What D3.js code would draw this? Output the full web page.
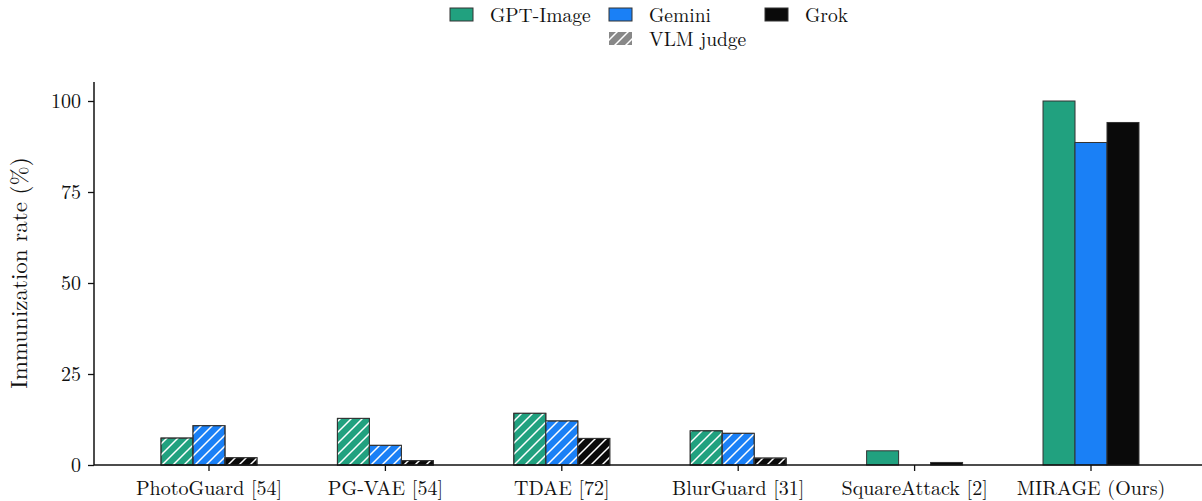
<!DOCTYPE html>
<html><head><meta charset="utf-8">
<script src="https://cdn.jsdelivr.net/npm/d3@7"></script>
<style>
body{margin:0;background:#fff;}
</style></head>
<body><div id="chart"></div>
<script>
const categories = ["PhotoGuard [54]","PG-VAE [54]","TDAE [72]","BlurGuard [31]","SquareAttack [2]","MIRAGE (Ours)"];
const seriesNames = ["GPT-Image","Gemini","Grok"];
const gptImage = [7.4, 12.8, 14.2, 9.4, 3.9, 100];
const gemini   = [10.8, 5.4, 12.1, 8.7, 0, 88.6];
const grok     = [2.0, 1.2, 7.3, 1.9, 0.7, 94.1];
const vlmJudge = [true, true, true, true, false, false];
const yTicks = [0, 25, 50, 75, 100];
const colors = ["#21a17f", "#1a80f6", "#0a0a0a"];
const FONT = "'Latin Modern Roman', 'Liberation Serif', serif";

const W = 1202, H = 501;
const svg = d3.select("#chart").append("svg").attr("width", W).attr("height", H)
  .style("font-family", FONT);
const defs = svg.append("defs");
const pat = defs.append("pattern").attr("id","hatch").attr("patternUnits","userSpaceOnUse")
  .attr("width",11).attr("height",11);
pat.append("path").attr("d","M-1,1 L1,-1 M0,11 L11,0 M10,12 L12,10")
  .attr("stroke","#fff").attr("stroke-width",1.5);

const x0 = 94, x1 = 1202, yTop = 82, yBot = 465;
const x = d3.scaleBand().domain(categories).range([120.8, 1179.2]).paddingInner(0.456).paddingOuter(0.228);
const y = d3.scaleLinear().domain([0, 100]).range([yBot, 101]);

const data = [gptImage, gemini, grok];
const xs = d3.scaleBand().domain(seriesNames).range([0, x.bandwidth()]);

const g = svg.append("g");
categories.forEach((c, i) => {
  seriesNames.forEach((s, j) => {
    const v = data[j][i];
    if (v <= 0) return;
    const bx = x(c) + xs(s);
    const bw = xs.bandwidth();
    g.append("rect").attr("x", bx).attr("y", y(v)).attr("width", bw).attr("height", y(0) - y(v))
      .attr("fill", colors[j]).attr("stroke", "#333").attr("stroke-width", 1);
    if (vlmJudge[i]) {
      g.append("rect").attr("x", bx).attr("y", y(v)).attr("width", bw).attr("height", y(0) - y(v))
        .attr("fill", "url(#hatch)").attr("stroke", "#333").attr("stroke-width", 1);
    }
  });
});

// axes
const yAxis = svg.append("g").attr("transform", `translate(${x0},0)`)
  .call(d3.axisLeft(y).tickValues(yTicks).tickSize(6).tickPadding(7));
yAxis.attr("font-family", null);
yAxis.select(".domain").remove();
yAxis.selectAll("text").style("font-family", FONT).style("font-size","20px").attr("fill","#111");
yAxis.selectAll("line").attr("stroke","#111").attr("stroke-width",1.3);
svg.append("line").attr("x1",x0).attr("x2",x0).attr("y1",yTop).attr("y2",yBot).attr("stroke","#111").attr("stroke-width",1.5);

const xAxis = svg.append("g").attr("transform", `translate(0,${yBot})`)
  .call(d3.axisBottom(x).tickSize(6).tickPadding(10));
xAxis.attr("font-family", null);
xAxis.select(".domain").remove();
xAxis.selectAll("text").style("font-family", FONT).style("font-size","20px").attr("fill","#111");
xAxis.selectAll("line").attr("stroke","#111").attr("stroke-width",1.3);
svg.append("line").attr("x1",x0).attr("x2",x1).attr("y1",yBot).attr("y2",yBot).attr("stroke","#111").attr("stroke-width",1.5);

svg.append("text").attr("transform", `translate(27,273) rotate(-90)`).attr("text-anchor","middle")
  .style("font-family", FONT).style("font-size","23px").attr("fill","#111").text("Immunization rate (%)");

// legend
const leg = svg.append("g");
const legItems = [
  {name: seriesNames[0], fill: colors[0], x: 450, y: 8},
  {name: seriesNames[1], fill: colors[1], x: 609, y: 8},
  {name: seriesNames[2], fill: colors[2], x: 765, y: 8},
  {name: "VLM judge", fill: "#888", x: 609, y: 32, hatch: true}
];
legItems.forEach(it => {
  leg.append("rect").attr("x", it.x).attr("y", it.y).attr("width", 23).attr("height", 13)
    .attr("fill", it.fill).attr("stroke", it.hatch ? "none" : "#333").attr("stroke-width", 1);
  if (it.hatch) leg.append("rect").attr("x", it.x).attr("y", it.y).attr("width", 23).attr("height", 13).attr("fill","url(#hatch)");
  leg.append("text").attr("x", it.x + 40).attr("y", it.y + 14).style("font-family", FONT)
    .style("font-size","19.5px").attr("fill","#111").text(it.name);
});
</script></body></html>
